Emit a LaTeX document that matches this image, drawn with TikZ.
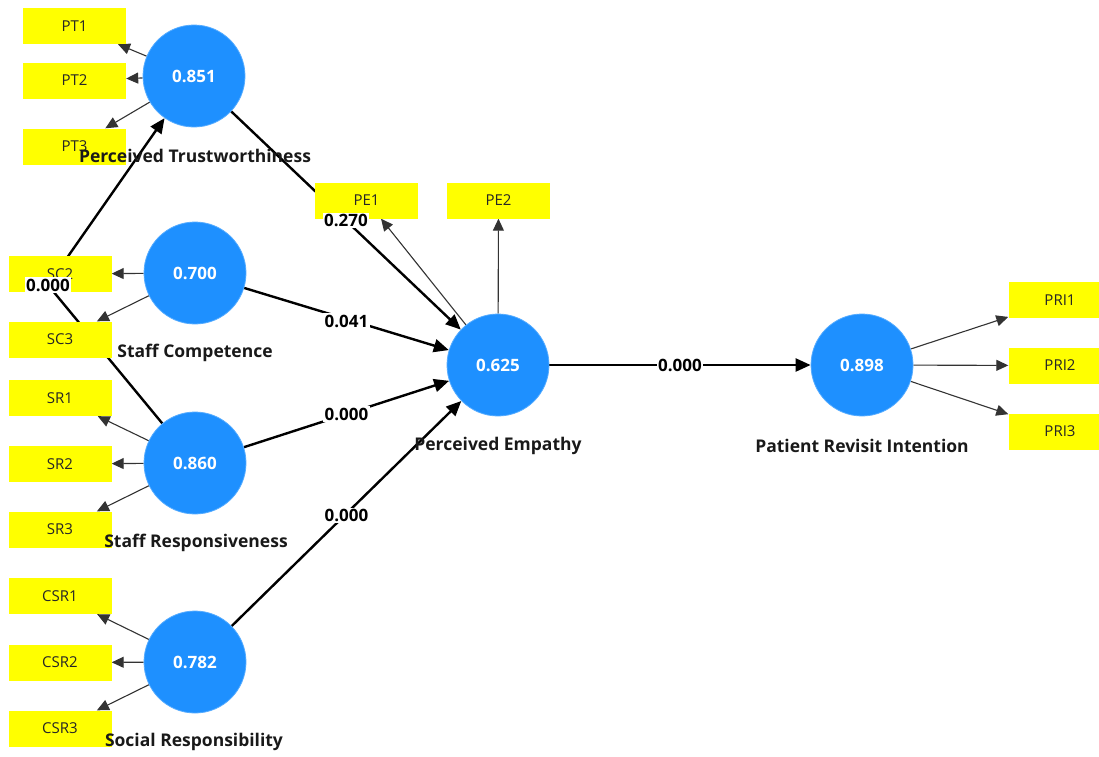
\documentclass[tikz,border=0pt]{standalone}
\usepackage{fontspec}
\setmainfont{Open Sans}
\usetikzlibrary{arrows.meta,calc}
\pgfdeclarelayer{bg}\pgfdeclarelayer{fg}\pgfsetlayers{bg,main,fg}
\definecolor{lvblue}{RGB}{30,144,255}
\definecolor{indyellow}{RGB}{255,255,0}
\begin{document}
\begin{tikzpicture}[x=1pt,y=-1pt,
 lv/.style={circle,fill=lvblue,draw=lvblue!75!white,line width=0.8pt,minimum size=102pt,inner sep=0pt,text=white,font=\bfseries\fontsize{17}{19}\selectfont},
 ind/.style={rectangle,fill=indyellow,minimum width=103pt,minimum height=36pt,inner sep=0pt,font=\fontsize{15}{17}\selectfont,text=black!85},
 lvname/.style={font=\bfseries\fontsize{17.5}{19}\selectfont,text=black!90},
 coef/.style={fill=white,inner sep=1.5pt,font=\bfseries\fontsize{17}{19}\selectfont},
 structedge/.style={line width=2.4pt,-{Triangle[length=15pt,width=13pt]}},
 loadedge/.style={line width=1.1pt,draw=black!80,-{Triangle[length=12pt,width=11pt]}}]
\useasboundingbox (0,0) rectangle (1099,756);
% latent variables
\node[lv] (PT) at (194,76) {0.851};
\node[lv] (SC) at (195,273) {0.700};
\node[lv] (SR) at (195,463) {0.860};
\node[lv] (CSR) at (195,662) {0.782};
\node[lv] (PE) at (498,365) {0.625};
\node[lv] (PRI) at (862,365) {0.898};
% indicators
\node[ind] (PT1) at (74.5,26) {PT1};
\node[ind] (PT2) at (74.5,80.5) {PT2};
\node[ind] (PT3) at (74.5,146.5) {PT3};
\node[ind] (SC2) at (60,274) {SC2};
\node[ind] (SC3) at (60,339.5) {SC3};
\node[ind] (SR1) at (60,398) {SR1};
\node[ind] (SR2) at (60,464) {SR2};
\node[ind] (SR3) at (60,529.5) {SR3};
\node[ind] (CSR1) at (60,596) {CSR1};
\node[ind] (CSR2) at (60,662.5) {CSR2};
\node[ind] (CSR3) at (60,728.5) {CSR3};
\node[ind] (PE1) at (366.5,200.5) {PE1};
\node[ind] (PE2) at (498.5,200.5) {PE2};
\node[ind] (PRI1) at (1060,300) {PRI1};
\node[ind] (PRI2) at (1060,365.5) {PRI2};
\node[ind] (PRI3) at (1060,431.5) {PRI3};
\coordinate (bend) at (48,285);
% edges
\begin{pgfonlayer}{bg}
\draw[structedge] (PT) -- (PE);
\draw[structedge] (SC) -- (PE);
\draw[structedge] (SR) -- (PE);
\draw[structedge] (CSR) -- (PE);
\draw[structedge] (PE) -- (PRI);
\draw[structedge] (SR) -- (bend) -- (PT);
\foreach \b in {PT1,PT2,PT3} \draw[loadedge] (PT) -- (\b);
\foreach \b in {SC2,SC3} \draw[loadedge] (SC) -- (\b);
\foreach \b in {SR1,SR2,SR3} \draw[loadedge] (SR) -- (\b);
\foreach \b in {CSR1,CSR2,CSR3} \draw[loadedge] (CSR) -- (\b);
\foreach \b in {PE1,PE2} \draw[loadedge] (PE) -- (\b);
\foreach \b in {PRI1,PRI2,PRI3} \draw[loadedge] (PRI) -- (\b);
\end{pgfonlayer}
% labels
\begin{pgfonlayer}{fg}
\node[lvname] at ($(PT)+(1,80)$) {Perceived Trustworthiness};
\node[lvname] at ($(SC)+(0,80)$) {Staff Competence};
\node[lvname] at ($(SR)+(1,80)$) {Staff Responsiveness};
\node[lvname] at ($(CSR)+(-1,80)$) {Social Responsibility};
\node[lvname] at ($(PE)+(0,81)$) {Perceived Empathy};
\node[lvname] at ($(PRI)+(0,81)$) {Patient Revisit Intention};
\node[coef] at ($(PT)!0.5!(PE)$) {0.270};
\node[coef] at ($(SC)!0.5!(PE)+(0,2)$) {0.041};
\node[coef] at ($(SR)!0.5!(PE)$) {0.000};
\node[coef] at ($(CSR)!0.5!(PE)+(0,2)$) {0.000};
\node[coef] at ($(PE)!0.5!(PRI)$) {0.000};
\node[coef] at (bend) {0.000};
\end{pgfonlayer}
\end{tikzpicture}
\end{document}
